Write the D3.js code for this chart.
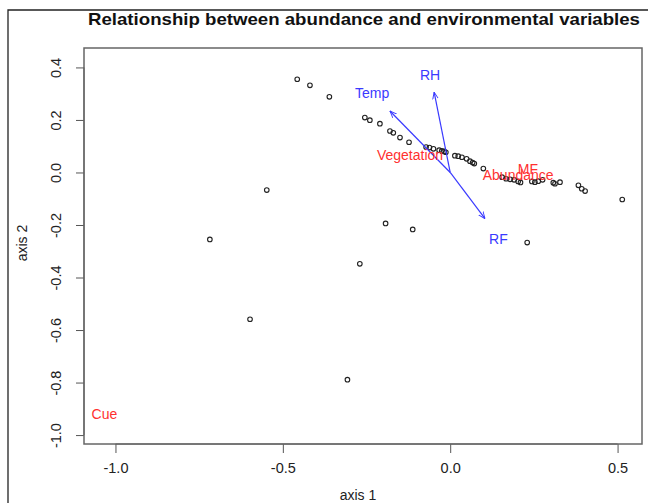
<!DOCTYPE html>
<html>
  <head>
    <script src="https://cdnjs.cloudflare.com/ajax/libs/d3/7.8.5/d3.min.js"></script>
    <style>
      body { margin: 0; background: #fff; }
      text { font-family: "Liberation Sans", Arial, sans-serif; }
    </style>
  </head>
  <body>
    <script type="text/javascript">

    // site scores (axis 1, axis 2)
    var siteX = [-0.457, -0.419, -0.361, -0.255, -0.240, -0.210, -0.180, -0.170, -0.150, -0.123,
                 -0.072, -0.062, -0.050, -0.033, -0.025, -0.018, -0.013, 0.014, 0.024, 0.035,
                 0.049, 0.059, 0.067, 0.072, 0.099, 0.155, 0.167, 0.179, 0.191, 0.203,
                 0.210, 0.244, 0.253, 0.263, 0.276, 0.308, 0.313, 0.328, 0.383, 0.393,
                 0.403, 0.514, -0.548, -0.718, -0.193, -0.112, 0.230, -0.270, -0.598, -0.307];
    var siteY = [0.355, 0.332, 0.288, 0.209, 0.199, 0.186, 0.158, 0.151, 0.133, 0.115,
                 0.097, 0.095, 0.090, 0.085, 0.082, 0.080, 0.077, 0.064, 0.062, 0.058,
                 0.052, 0.043, 0.038, 0.034, 0.015, -0.018, -0.024, -0.026, -0.028, -0.034,
                 -0.038, -0.034, -0.037, -0.033, -0.028, -0.039, -0.043, -0.037, -0.049, -0.062,
                 -0.071, -0.103, -0.067, -0.255, -0.194, -0.217, -0.267, -0.348, -0.559, -0.789];

    // environmental vectors
    var envNames = ["RH", "Temp", "RF"];
    var envX = [-0.048, -0.180, 0.104];
    var envY = [0.306, 0.234, -0.176];
    var envLabelX = [-0.060, -0.233, 0.144];
    var envLabelY = [0.370, 0.302, -0.253];

    // factor / species labels
    var factorNames = ["Vegetation", "Abundance", "MF", "Cue"];
    var factorX = [-0.120, 0.203, 0.232, -1.033];
    var factorY = [0.065, -0.009, 0.013, -0.922];

    var xTicks = [-1.0, -0.5, 0.0, 0.5];
    var yTicks = [-1.0, -0.8, -0.6, -0.4, -0.2, 0.0, 0.2, 0.4];

    var width = 648, height = 503;
    var plot = {left: 84, top: 48, right: 642, bottom: 444};

    var svg = d3.select("body").append("svg")
        .attr("width", width)
        .attr("height", height);

    // outer border of the figure
    svg.append("path")
        .attr("d", "M8,503 L8,10 L648,10")
        .attr("fill", "none")
        .attr("stroke", "#222")
        .attr("stroke-width", 1.3);

    var x = d3.scaleLinear().domain([-1.094, 0.573]).range([plot.left, plot.right]);
    var y = d3.scaleLinear().domain([-1.034, 0.474]).range([plot.bottom, plot.top]);

    var fmt = function (d) { return d.toFixed(1); };

    // x axis
    var gx = svg.append("g")
        .attr("transform", "translate(0," + plot.bottom + ")")
        .call(d3.axisBottom(x).tickValues(xTicks).tickFormat(fmt).tickSizeInner(9).tickSizeOuter(0).tickPadding(10));
    gx.select(".domain").remove();
    gx.append("line")
        .attr("x1", x(xTicks[0])).attr("x2", x(xTicks[xTicks.length - 1]))
        .attr("stroke", "#555");
    gx.selectAll(".tick line").attr("stroke", "#555");
    gx.selectAll(".tick text").attr("fill", "#222").style("font-size", "14.5px");

    // y axis
    var gy = svg.append("g")
        .attr("transform", "translate(" + plot.left + ",0)")
        .call(d3.axisLeft(y).tickValues(yTicks).tickFormat(fmt).tickSizeInner(8).tickSizeOuter(0));
    gy.select(".domain").remove();
    gy.append("line")
        .attr("y1", y(yTicks[0])).attr("y2", y(yTicks[yTicks.length - 1]))
        .attr("stroke", "#555");
    gy.selectAll(".tick line").attr("stroke", "#555");
    gy.selectAll(".tick text")
        .attr("fill", "#222")
        .style("font-size", "14.5px")
        .attr("x", null).attr("dy", null)
        .attr("text-anchor", "middle")
        .attr("transform", "translate(-28,0) rotate(-90)")
        .attr("dy", "0.35em");

    // plot frame
    svg.append("rect")
        .attr("x", plot.left).attr("y", plot.top)
        .attr("width", plot.right - plot.left).attr("height", plot.bottom - plot.top)
        .attr("fill", "none")
        .attr("stroke", "#666")
        .attr("stroke-width", 1.5);

    // titles
    svg.append("text")
        .attr("x", 364).attr("y", 25)
        .attr("text-anchor", "middle")
        .attr("textLength", 552)
        .attr("lengthAdjust", "spacingAndGlyphs")
        .style("font-size", "17px")
        .style("font-weight", "bold")
        .attr("fill", "#111")
        .text("Relationship between abundance and environmental variables");

    svg.append("text")
        .attr("x", 358).attr("y", 500)
        .attr("text-anchor", "middle")
        .style("font-size", "14px")
        .attr("fill", "#222")
        .text("axis 1");

    svg.append("text")
        .attr("transform", "translate(27,243) rotate(-90)")
        .attr("text-anchor", "middle")
        .style("font-size", "14px")
        .attr("fill", "#222")
        .text("axis 2");

    // points
    svg.append("g").selectAll("circle")
        .data(siteX)
        .enter()
        .append("circle")
          .attr("cx", function (d) { return x(d); })
          .attr("cy", function (d, i) { return y(siteY[i]); })
          .attr("r", 2.3)
          .attr("fill", "none")
          .attr("stroke", "#222")
          .attr("stroke-width", 1.1);

    // arrows
    svg.append("defs").append("marker")
        .attr("id", "head")
        .attr("viewBox", "0 0 10 10")
        .attr("refX", 10).attr("refY", 5)
        .attr("markerWidth", 7).attr("markerHeight", 7)
        .attr("markerUnits", "userSpaceOnUse")
        .attr("orient", "auto")
        .append("path")
          .attr("d", "M0,1 L10,5 L0,9")
          .attr("fill", "none")
          .attr("stroke", "#3a3aff")
          .attr("stroke-width", 1.3);

    svg.append("g").selectAll("line")
        .data(envNames)
        .enter()
        .append("line")
          .attr("x1", x(0)).attr("y1", y(0))
          .attr("x2", function (d, i) { return x(envX[i]); })
          .attr("y2", function (d, i) { return y(envY[i]); })
          .attr("stroke", "#3a3aff")
          .attr("stroke-width", 1.2)
          .attr("marker-end", "url(#head)");

    svg.append("g").selectAll("text")
        .data(envNames)
        .enter()
        .append("text")
          .attr("x", function (d, i) { return x(envLabelX[i]); })
          .attr("y", function (d, i) { return y(envLabelY[i]); })
          .attr("dy", "0.35em")
          .attr("text-anchor", "middle")
          .style("font-size", "14px")
          .attr("fill", "#3a3aff")
          .text(function (d) { return d; });

    svg.append("g").selectAll("text")
        .data(factorNames)
        .enter()
        .append("text")
          .attr("x", function (d, i) { return x(factorX[i]); })
          .attr("y", function (d, i) { return y(factorY[i]); })
          .attr("dy", "0.35em")
          .attr("text-anchor", "middle")
          .style("font-size", "14px")
          .attr("fill", "#ff3030")
          .text(function (d) { return d; });

    </script>
  </body>
</html>
